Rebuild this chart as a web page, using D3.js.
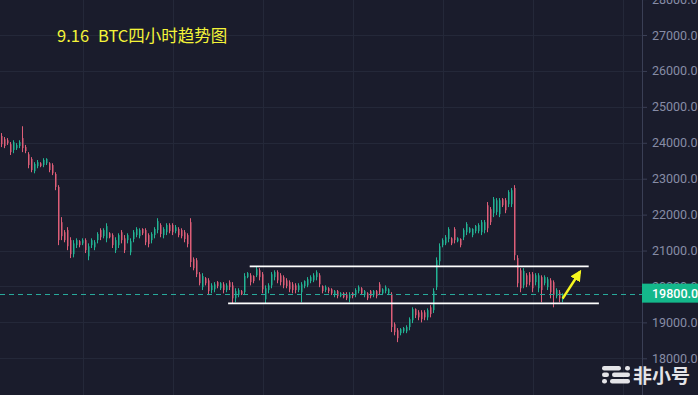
<!DOCTYPE html>
<html>
<head>
<meta charset="utf-8">
<script src="https://cdn.jsdelivr.net/npm/d3@7"></script>
<style>
   html, body { margin: 0; padding: 0; background: #1a1c2c; overflow: hidden; }
   svg { display: block; }
</style>
</head>
<body>
<div id="chart"></div>
<script>

// CANDLE DATA -- BTC 4H, ONE ENTRY PER CANDLE
var open = [
   24190, 24100, 24070, 23960, 23800, 23850, 23910, 24130, 23880, 23680,
   23550, 23210, 23350, 23430, 23380, 23430, 23430, 23380, 23130, 22770,
   21790, 21510, 21570, 21290, 20900, 21150, 21260, 21200, 21290, 20840,
   21150, 21090, 21290, 21570, 21400, 21340, 21480, 21430, 21010, 21150,
   21510, 21340, 21290, 20950, 21320, 21430, 21400, 21600, 21570, 21430,
   21290, 21430, 21570, 21710, 21430, 21510, 21710, 21710, 21540, 21600,
   21570, 21510, 21430, 21790, 20760, 20730, 20340, 19980, 20230, 20170,
   19900, 19920, 20120, 19950, 20060, 19900, 20120, 20030, 19670, 19760,
   19870, 19840, 20260, 20310, 20290, 20310, 20450, 20340, 19640, 19900,
   20030, 20260, 20400, 20310, 20260, 20170, 20120, 20060, 20030, 19900,
   19840, 20010, 20030, 20150, 20170, 20260, 20310, 20010, 19900, 19950,
   19920, 19760, 19870, 19730, 19810, 19780, 19670, 19810, 19760, 19870,
   19950, 19760, 19810, 19870, 19760, 19870, 20060, 19810, 19870, 19810,
   19780, 18950, 18780, 18700, 18750, 18750, 18870, 19060, 19370, 19280,
   19280, 19280, 19140, 19420, 19340, 19980, 20700, 21150, 21200, 21320,
   21340, 21600, 21260, 21320, 21370, 21510, 21510, 21430, 21540, 21540,
   21510, 21570, 22260, 22150, 22040, 22070, 22010, 22430, 22400, 22290,
   22290, 22740, 20790, 20450, 20030, 20310, 20340, 20340, 20120, 19950,
   20260, 20090, 19980, 20170, 20120, 19730, 19840, 19640
];

var close = [
   23960, 23910, 23990, 23740, 24020, 23940, 24020, 23850, 23770, 23380,
   23240, 23410, 23460, 23350, 23520, 23550, 23240, 23150, 22770, 21290,
   21400, 21290, 21120, 20900, 21200, 21290, 21150, 21290, 21010, 21120,
   21290, 21230, 21460, 21370, 21570, 21680, 21370, 21150, 21290, 21430,
   21290, 21010, 21430, 21260, 21510, 21600, 21570, 21480, 21230, 21180,
   21460, 21600, 21820, 21460, 21600, 21710, 21540, 21510, 21650, 21430,
   21400, 21320, 21180, 20680, 20510, 20340, 20090, 20290, 20090, 19870,
   20030, 20060, 20010, 20090, 19900, 20030, 19980, 19670, 19870, 19900,
   19780, 20290, 20370, 20120, 20150, 20480, 20260, 19920, 19950, 20030,
   20340, 20400, 20170, 20120, 20030, 20010, 19920, 19900, 19900, 20030,
   20060, 20150, 20200, 20260, 20310, 20400, 20060, 19870, 19980, 19870,
   19810, 19870, 19730, 19810, 19700, 19670, 19780, 19730, 19900, 19980,
   19810, 19870, 19670, 19730, 19870, 19730, 19840, 19920, 19980, 19920,
   18870, 18730, 18560, 18810, 18840, 18870, 19090, 19370, 19200, 19140,
   19090, 19140, 19340, 19230, 19870, 20730, 21120, 21290, 21370, 21600,
   21200, 21290, 21340, 21150, 21570, 21740, 21620, 21600, 21680, 21710,
   21790, 21790, 21620, 21790, 22430, 22400, 22400, 22260, 22120, 22630,
   22680, 20870, 20090, 19950, 20430, 20060, 20120, 19950, 20310, 20310,
   19900, 20260, 20200, 19840, 19760, 19900, 19670, 19790
];

var high = [
   24270, 24160, 24130, 24020, 24070, 23990, 24070, 24460, 23940, 23740,
   23600, 23460, 23520, 23460, 23570, 23570, 23460, 23430, 23180, 22820,
   21930, 21570, 21650, 21370, 21290, 21340, 21290, 21340, 21340, 21200,
   21340, 21290, 21510, 21620, 21620, 21760, 21510, 21480, 21370, 21480,
   21570, 21430, 21480, 21340, 21570, 21650, 21620, 21620, 21620, 21480,
   21510, 21650, 21900, 21760, 21650, 21760, 21760, 21760, 21710, 21650,
   21620, 21570, 21480, 21900, 20810, 20790, 20400, 20370, 20260, 20230,
   20090, 20120, 20150, 20120, 20120, 20090, 20170, 20120, 19950, 19950,
   19900, 20370, 20400, 20370, 20310, 20540, 20510, 20400, 20030, 20090,
   20400, 20450, 20450, 20370, 20310, 20230, 20170, 20120, 20090, 20090,
   20120, 20170, 20260, 20310, 20370, 20450, 20370, 20030, 20030, 19980,
   19950, 19900, 19900, 19840, 19840, 19840, 19840, 19840, 19950, 20030,
   19980, 19900, 19840, 19900, 19900, 19900, 20120, 19950, 20030, 19950,
   19840, 19000, 18840, 18840, 18870, 18920, 19140, 19420, 19390, 19340,
   19340, 19340, 19390, 19480, 19950, 20810, 21200, 21340, 21430, 21650,
   21370, 21650, 21370, 21340, 21620, 21790, 21650, 21620, 21710, 21760,
   21850, 21850, 22350, 22210, 22490, 22460, 22460, 22460, 22460, 22680,
   22740, 22820, 20870, 20510, 20510, 20370, 20400, 20400, 20370, 20370,
   20310, 20310, 20260, 20230, 20170, 19950, 19900, 19810
];

var low = [
   23880, 23850, 23940, 23660, 23710, 23800, 23850, 23740, 23710, 23290,
   23180, 23150, 23290, 23320, 23320, 23380, 23180, 23100, 22680, 21150,
   21290, 21230, 21010, 20790, 20810, 21070, 21090, 21150, 20930, 20730,
   21070, 21010, 21200, 21290, 21340, 21230, 21340, 21070, 20930, 21070,
   21200, 20930, 21200, 20870, 21230, 21370, 21340, 21430, 21150, 21090,
   21200, 21340, 21480, 21370, 21340, 21430, 21480, 21430, 21480, 21370,
   21340, 21230, 21090, 20540, 20450, 20260, 20030, 19900, 20030, 19760,
   19810, 19840, 19950, 19900, 19810, 19840, 19900, 19530, 19560, 19700,
   19760, 19760, 20230, 20030, 20090, 20260, 20170, 19810, 19530, 19810,
   19950, 20170, 20090, 20030, 19950, 19950, 19840, 19810, 19810, 19840,
   19560, 19950, 19980, 20090, 20120, 20170, 19980, 19810, 19840, 19810,
   19760, 19700, 19670, 19700, 19670, 19620, 19560, 19670, 19700, 19810,
   19760, 19700, 19620, 19670, 19700, 19670, 19760, 19760, 19810, 19760,
   18730, 18640, 18450, 18640, 18700, 18700, 18780, 18980, 19120, 19060,
   19000, 19060, 19060, 19140, 19260, 19900, 20590, 21090, 21150, 21230,
   21150, 21200, 21230, 21090, 21290, 21430, 21480, 21370, 21480, 21480,
   21430, 21480, 21510, 21710, 21930, 21990, 21930, 22210, 22040, 22210,
   22210, 20730, 19980, 19840, 19950, 19980, 20030, 19840, 20030, 19840,
   19560, 20030, 19900, 19670, 19420, 19670, 19560, 19560
];

// PRICE AXIS TICKS
var yTicks = [18000, 19000, 20000, 21000, 22000, 23000, 24000, 25000, 26000, 27000, 28000];

// VERTICAL GRID -- CANDLE INDEX POSITIONS
var timeGrid = [27.5, 57.5, 87.5, 117.5, 147.5, 177.5, 207.5];

// LAST PRICE
var lastPrice = 19800;

// RANGE BOX -- PRICE LEVEL, START & END CANDLE INDEX
var boxTop = [20560, 83, 196];
var boxBottom = [19530, 75.8, 199.4];

// ARROW -- [INDEX, PRICE] START & END
var arrowFrom = [187.3, 19660];
var arrowTo = [193.1, 20410];

// TITLE PARTS
var titleParts = ['9.16', 'BTC四小时趋势图'];

// SETTINGS
var settings = {
   width: 698,
   height: 395,
   axisX: 642,
   background: '#1a1c2c',
   grid: '#242839',
   axis: '#3a3f55',
   label: '#878ca6',
   up: '#22b394',
   down: '#de5e78',
   dash: '#28a99b',
   badge: '#14b88b'
}

// SCALES
var xScale = d3.scaleLinear()
   .domain([0, open.length - 1])
   .range([0.7, 561.7])

var yScale = d3.scaleLinear()
   .domain([18000, 27000])
   .range([358.3, 35])

// CANVAS
var canvas = d3.select('#chart').append('svg')
   .attr('width', settings.width)
   .attr('height', settings.height)

canvas.append('rect')
   .attr('width', settings.width)
   .attr('height', settings.height)
   .attr('fill', settings.background)

// HORIZONTAL GRID
canvas.append('g').selectAll('line')
   .data(yTicks)
      .enter().append('line')
         .attr('x1', 0)
         .attr('x2', settings.axisX)
         .attr('y1', (d) => { return Math.round(yScale(d)) + 0.5 })
         .attr('y2', (d) => { return Math.round(yScale(d)) + 0.5 })
         .attr('stroke', settings.grid)

// VERTICAL GRID
canvas.append('g').selectAll('line')
   .data(timeGrid)
      .enter().append('line')
         .attr('x1', (d) => { return Math.round(xScale(d)) + 0.5 })
         .attr('x2', (d) => { return Math.round(xScale(d)) + 0.5 })
         .attr('y1', 0)
         .attr('y2', settings.height)
         .attr('stroke', settings.grid)

// TITLE -- WIDE GAP AFTER DATE
var titleText = canvas.append('text')
   .attr('y', 42)
   .attr('fill', '#f4f438')
   .attr('font-family', '"Noto Sans CJK SC", "Noto Sans", sans-serif')
   .attr('font-size', 16.5)

titleText.append('tspan').attr('x', 57).text(titleParts[0])
titleText.append('tspan').attr('x', 98).text(titleParts[1])

// CANDLES
var plot = canvas.append('g')
var candles = plot.selectAll('g.candle')
   .data(open.map((d, i) => { return i }))
      .enter().append('g')
         .attr('class', 'candle')
         .attr('fill', (i) => { return close[i] >= open[i] ? settings.up : settings.down })

// WICK
candles.append('rect')
   .attr('x', (i) => { return Math.round(xScale(i)) })
   .attr('y', (i) => { return yScale(high[i]) })
   .attr('width', 1)
   .attr('height', (i) => { return Math.max(1, yScale(low[i]) - yScale(high[i])) })

// BODY
candles.append('rect')
   .attr('x', (i) => { return Math.round(xScale(i)) })
   .attr('y', (i) => { return yScale(Math.max(open[i], close[i])) })
   .attr('width', 1.5)
   .attr('height', (i) => { return Math.max(1, Math.abs(yScale(open[i]) - yScale(close[i]))) })

// LAST PRICE LINE
canvas.append('line')
   .attr('x1', 0)
   .attr('x2', settings.axisX)
   .attr('y1', Math.round(yScale(lastPrice)) + 0.5)
   .attr('y2', Math.round(yScale(lastPrice)) + 0.5)
   .attr('stroke', settings.dash)
   .attr('stroke-dasharray', '5,4')

// RANGE BOX LINES
canvas.selectAll('line.box')
   .data([boxTop, boxBottom])
      .enter().append('line')
         .attr('class', 'box')
         .attr('x1', (d) => { return xScale(d[1]) })
         .attr('x2', (d) => { return xScale(d[2]) })
         .attr('y1', (d) => { return yScale(d[0]) })
         .attr('y2', (d) => { return yScale(d[0]) })
         .attr('stroke', '#ffffff')
         .attr('stroke-width', 1.6)

// ARROW
var defs = canvas.append('defs')
defs.append('marker')
   .attr('id', 'head')
   .attr('viewBox', '0 0 10 10')
   .attr('refX', 8)
   .attr('refY', 5)
   .attr('markerWidth', 4.5)
   .attr('markerHeight', 4.5)
   .attr('orient', 'auto')
   .append('path')
      .attr('d', 'M0,0 L10,5 L0,10 Z')
      .attr('fill', '#f5f51e')

canvas.append('line')
   .attr('x1', xScale(arrowFrom[0]))
   .attr('y1', yScale(arrowFrom[1]))
   .attr('x2', xScale(arrowTo[0]))
   .attr('y2', yScale(arrowTo[1]))
   .attr('stroke', '#f5f51e')
   .attr('stroke-width', 2.5)
   .attr('marker-end', 'url(#head)')

// PRICE AXIS
var yAxis = d3.axisRight(yScale)
   .tickValues(yTicks)
   .tickSize(5)
   .tickPadding(5)
   .tickFormat(d3.format('.1f'))

var axis = canvas.append('g')
   .attr('transform', 'translate(' + settings.axisX + ',0)')
   .call(yAxis)

axis.select('.domain').remove()
axis.selectAll('line').attr('stroke', settings.axis)
axis.selectAll('text')
   .attr('fill', settings.label)
   .attr('font-family', 'Roboto, sans-serif')
   .attr('font-size', 12.5)

canvas.append('line')
   .attr('x1', settings.axisX + 0.5)
   .attr('x2', settings.axisX + 0.5)
   .attr('y1', 0)
   .attr('y2', settings.height)
   .attr('stroke', settings.axis)

// LAST PRICE BADGE
var badgeY = yScale(lastPrice);
canvas.append('rect')
   .attr('x', settings.axisX)
   .attr('y', badgeY - 10)
   .attr('width', settings.width - settings.axisX)
   .attr('height', 19)
   .attr('fill', settings.badge)

canvas.append('text')
   .attr('x', settings.axisX + 10)
   .attr('y', badgeY)
   .attr('dy', '0.35em')
   .attr('fill', '#ffffff')
   .attr('font-family', 'Roboto, sans-serif')
   .attr('font-size', 12.5)
   .attr('font-weight', 500)
   .text(d3.format('.1f')(lastPrice))

// WATERMARK
var mark = canvas.append('g').attr('fill', '#e4e4e8')
var bars = [[602, 366, 19], [625, 366, 5], [602, 372.5, 7], [612, 372.5, 18], [602, 379, 5], [610, 379, 20]];
bars.forEach(b => {
   mark.append('rect')
      .attr('x', b[0])
      .attr('y', b[1])
      .attr('width', b[2])
      .attr('height', 4.5)
      .attr('rx', 2.2)
})
mark.append('text')
   .attr('x', 633)
   .attr('y', 383)
   .attr('font-family', '"Noto Sans CJK SC", sans-serif')
   .attr('font-size', 19)
   .attr('font-weight', 700)
   .text('非小号')

</script>
</body>
</html>
